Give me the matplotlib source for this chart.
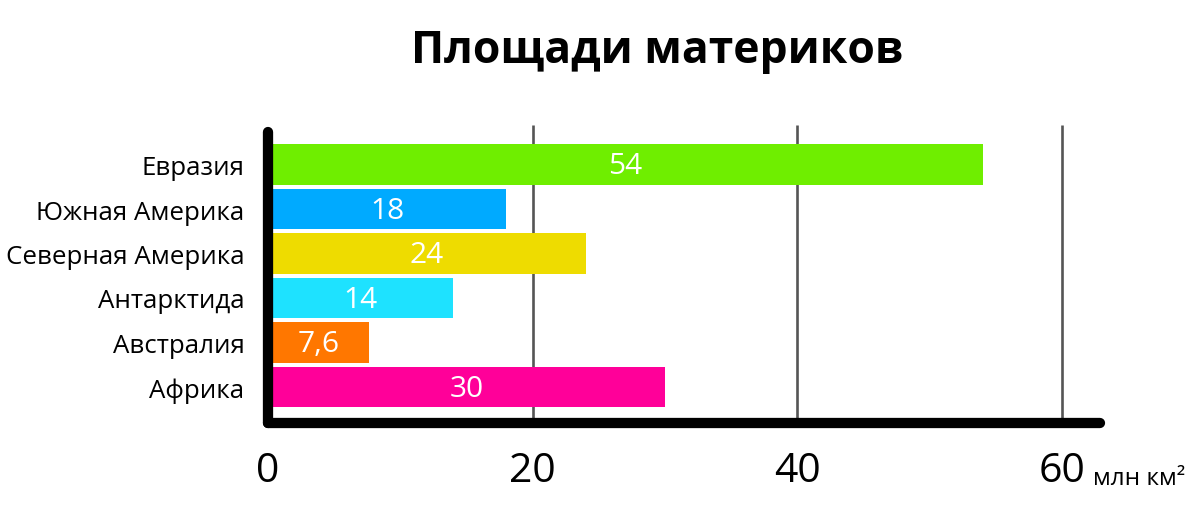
import matplotlib.pyplot as plt

plt.rcParams['font.family'] = ['Open Sans', 'DejaVu Sans']

# data, top to bottom as shown
continents = ['Евразия', 'Южная Америка', 'Северная Америка', 'Антарктида', 'Австралия', 'Африка']
areas = [54, 18, 24, 14, 7.6, 30]
area_labels = ['54', '18', '24', '14', '7,6', '30']
colors = ['#6fee00', '#00aaff', '#eedc00', '#1ee2ff', '#ff7700', '#ff0099']
xticks = [0, 20, 40, 60]
unit = 'млн км²'

W, H = 1200, 510
fig = plt.figure(figsize=(W / 100, H / 100), dpi=100)

px_x0, px_x60 = 268, 1062          # pixel of x=0 and x=60
px_right = 1105
px_bottom, px_top = 424, 128
ppu = (px_x60 - px_x0) / 60.0

ax = fig.add_axes([px_x0 / W, (H - px_bottom) / H,
                   (px_right - px_x0) / W, (px_bottom - px_top) / H])

n = len(continents)
ypos = list(range(n - 1, -1, -1))
row_px = 44.5
y_lo = -(px_bottom - 388) / row_px
y_hi = (n - 1) + (165.5 - px_top) / row_px
ax.set_xlim(0, (px_right - px_x0) / ppu)
ax.set_ylim(y_lo, y_hi)

# grid lines
for t in xticks[1:]:
    ax.plot([t, t], [y_lo, y_hi + 2 / row_px], color='#555555', lw=1.9,
            clip_on=False, zorder=1, solid_capstyle='butt')

ax.barh(ypos, areas, height=0.9, color=colors, zorder=2)
for y, v, lab in zip(ypos, areas, area_labels):
    ax.text(v / 2, y - 0.03, lab, color='white', fontsize=21.5,
            ha='center', va='center', zorder=3)

# thick axis lines with round caps
lw = 7.4
cap = 5 / ppu
ax.plot([0, 0], [y_lo, y_hi - 5 / row_px], color='black', lw=lw,
        solid_capstyle='round', clip_on=False, zorder=4)
ax.plot([0, (px_right - px_x0) / ppu - cap], [y_lo, y_lo], color='black', lw=lw,
        solid_capstyle='round', clip_on=False, zorder=4)

for s in ax.spines.values():
    s.set_visible(False)
ax.set_xticks(xticks)
ax.set_xticklabels([str(t) for t in xticks], fontsize=29.5)
ax.tick_params(axis='x', length=0, pad=20)
ax.set_yticks(ypos)
ax.set_yticklabels(continents, fontsize=18.6)
ax.tick_params(axis='y', length=0, pad=17)

fig.text(1093 / W, 1 - 485 / H, unit, fontsize=17.5, ha='left', va='baseline')
fig.text(657 / W, 1 - 52 / H, 'Площади материков', fontsize=32,
         fontweight='bold', ha='center', va='center')

fig.savefig('out.png', dpi=100)
